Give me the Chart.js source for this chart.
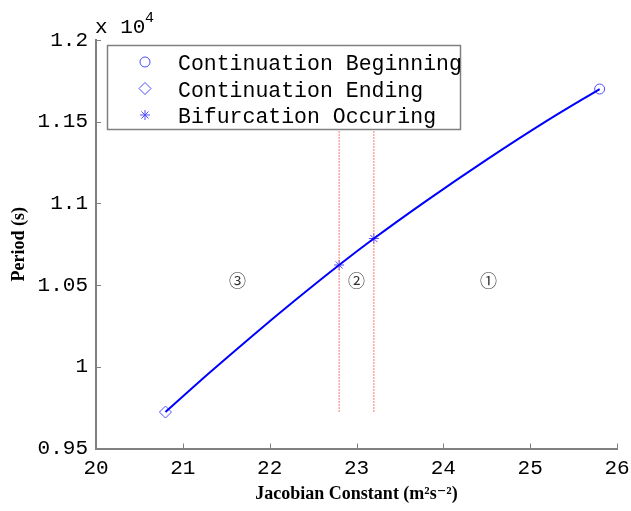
<!DOCTYPE html>
<html>
<head>
<meta charset="utf-8">
<script src="https://cdn.jsdelivr.net/npm/chart.js@4/dist/chart.umd.min.js"></script>
<style>
  body { margin: 0; background: #fff; }
  #wrap { width: 631px; height: 511px; }
</style>
</head>
<body>
<div id="wrap"><canvas id="myChart"></canvas></div>
<script>
// continuation curve, period in seconds
const jacobi = [20.8, 21.3, 21.8, 22.3, 22.8, 23.2, 23.8, 24.5, 25.2, 25.8];
const period = [9723, 9960, 10189, 10410, 10623, 10785, 11014, 11268, 11508, 11700];

const beginX = [25.8];
const beginY = [11700];
const endX = [20.8];
const endY = [9723];
const bifX = [22.8, 23.2];
const bifY = [10623, 10785];

// dotted region boundaries (low / high end)
const boundX = [22.8, 23.2];
const boundY = [9725, 11450];

const regionNames = ['③', '②', '①'];
const regionX = [21.63, 23.0, 24.52];
const regionY = [10530, 10530, 10530];

const xTicks = [20, 21, 22, 23, 24, 25, 26];
const yTicks = [9500, 10000, 10500, 11000, 11500, 12000];

const mono = '"Liberation Mono", "DejaVu Sans Mono", monospace';
const serif = '"Liberation Serif", "DejaVu Serif", serif';
const markerColor = '#4d4dff';

const toXY = (xs, ys) => xs.map((x, i) => ({x: x, y: ys[i]}));

const datasets = [{
  label: 'curve',
  data: toXY(jacobi, period),
  borderColor: '#0000ff',
  borderWidth: 2,
  pointRadius: 0,
  cubicInterpolationMode: 'monotone',
  fill: false
}];

boundX.forEach(x => {
  datasets.push({
    label: 'boundary',
    data: [{x: x, y: boundY[0]}, {x: x, y: boundY[1]}],
    borderColor: '#ff4a4a',
    borderWidth: 1,
    borderDash: [1.5, 1.5],
    pointRadius: 0,
    fill: false
  });
});

const markerSet = (label, xs, ys, style, r) => ({
  label: label,
  data: toXY(xs, ys),
  showLine: false,
  pointStyle: style,
  pointRadius: r,
  pointBorderWidth: 1,
  borderColor: markerColor,
  backgroundColor: 'rgba(0,0,0,0)',
  inLegend: true
});

datasets.push(markerSet('Continuation Beginning', beginX, beginY, 'circle', 5));
datasets.push(markerSet('Continuation Ending', endX, endY, 'rectRot', 6));
datasets.push(markerSet('Bifurcation Occuring', bifX, bifY, 'star', 5));

const legendBox = {
  id: 'legendBox',
  afterDatasetsDraw(chart) {
    const ctx = chart.ctx;
    const items = chart.data.datasets.filter(d => d.inLegend);
    ctx.save();
    ctx.fillStyle = '#fff';
    ctx.fillRect(107, 45, 354, 85);
    ctx.strokeStyle = '#808080';
    ctx.lineWidth = 1.5;
    ctx.strokeRect(107.5, 45.5, 353, 84);
    items.forEach((d, i) => {
      const y = 62 + i * 26.5;
      ctx.strokeStyle = d.borderColor;
      ctx.fillStyle = 'rgba(0,0,0,0)';
      ctx.lineWidth = 1;
      Chart.helpers.drawPoint(ctx, {pointStyle: d.pointStyle, radius: d.pointRadius, borderWidth: 1, rotation: 0}, 145, y);
      ctx.fillStyle = '#000';
      ctx.font = '21.5px ' + mono;
      ctx.textBaseline = 'alphabetic';
      ctx.fillText(d.label, 178, y + 8);
    });
    ctx.restore();
  }
};

const extras = {
  id: 'extras',
  afterDraw(chart) {
    const ctx = chart.ctx;
    const xs = chart.scales.x, ys = chart.scales.y, a = chart.chartArea;
    ctx.save();
    // inward tick marks
    ctx.strokeStyle = '#808080';
    ctx.lineWidth = 1;
    ctx.beginPath();
    xs.ticks.forEach(t => {
      const px = Math.round(xs.getPixelForValue(t.value)) + 0.5;
      ctx.moveTo(px, a.bottom);
      ctx.lineTo(px, a.bottom - 5);
    });
    ys.ticks.forEach(t => {
      const py = Math.round(ys.getPixelForValue(t.value)) + 0.5;
      ctx.moveTo(a.left, py);
      ctx.lineTo(a.left + 5, py);
    });
    ctx.stroke();
    // region numbers
    ctx.fillStyle = '#333';
    ctx.font = '17px "Noto Sans CJK SC"';
    ctx.textAlign = 'center';
    ctx.textBaseline = 'middle';
    regionNames.forEach((n, i) => {
      ctx.fillText(n, xs.getPixelForValue(regionX[i]), ys.getPixelForValue(regionY[i]));
    });
    // exponent label
    ctx.fillStyle = '#000';
    ctx.textAlign = 'left';
    ctx.textBaseline = 'alphabetic';
    ctx.font = '21px ' + mono;
    ctx.fillText('x 10', 95, 33);
    ctx.font = '15px ' + mono;
    ctx.fillText('4', 145, 22);
    ctx.restore();
  }
};

const config = {
  type: 'line',
  data: {datasets: datasets},
  options: {
    responsive: true,
    maintainAspectRatio: false,
    animation: false,
    layout: {padding: {top: 40, right: 14, left: 0, bottom: 0}},
    plugins: {legend: {display: false}, tooltip: {enabled: false}},
    scales: {
      x: {
        type: 'linear',
        min: 20,
        max: 26,
        afterBuildTicks: s => { s.ticks = xTicks.map(v => ({value: v})); },
        afterFit: s => { s.height = 62.5; s.paddingLeft = 0; s.paddingRight = 0; },
        grid: {display: false, drawTicks: false},
        border: {display: true, color: '#808080', width: 2},
        ticks: {color: '#000', padding: 7, font: {family: mono, size: 21}, maxRotation: 0},
        title: {
          display: true,
          text: 'Jacobian Constant (m²s⁻²)',
          color: '#000',
          font: {family: serif, size: 18, weight: 'bold'},
          padding: {top: 0, bottom: 6}
        }
      },
      y: {
        type: 'linear',
        min: 9500,
        max: 12000,
        afterBuildTicks: s => { s.ticks = yTicks.map(v => ({value: v})); },
        afterFit: s => { s.width = 96; s.paddingTop = 0; s.paddingBottom = 0; },
        grid: {display: false, drawTicks: false},
        border: {display: true, color: '#808080', width: 2},
        ticks: {
          color: '#000',
          padding: 8,
          font: {family: mono, size: 21},
          callback: v => String(Math.round(v / 5) * 5 / 10000)
        },
        title: {
          display: true,
          text: 'Period (s)',
          color: '#000',
          font: {family: serif, size: 18, weight: 'bold'},
          padding: {top: 9, bottom: 0}
        }
      }
    }
  },
  plugins: [legendBox, extras]
};

const ctx = document.getElementById('myChart');
const myChart = new Chart(ctx, config);
</script>
</body>
</html>
